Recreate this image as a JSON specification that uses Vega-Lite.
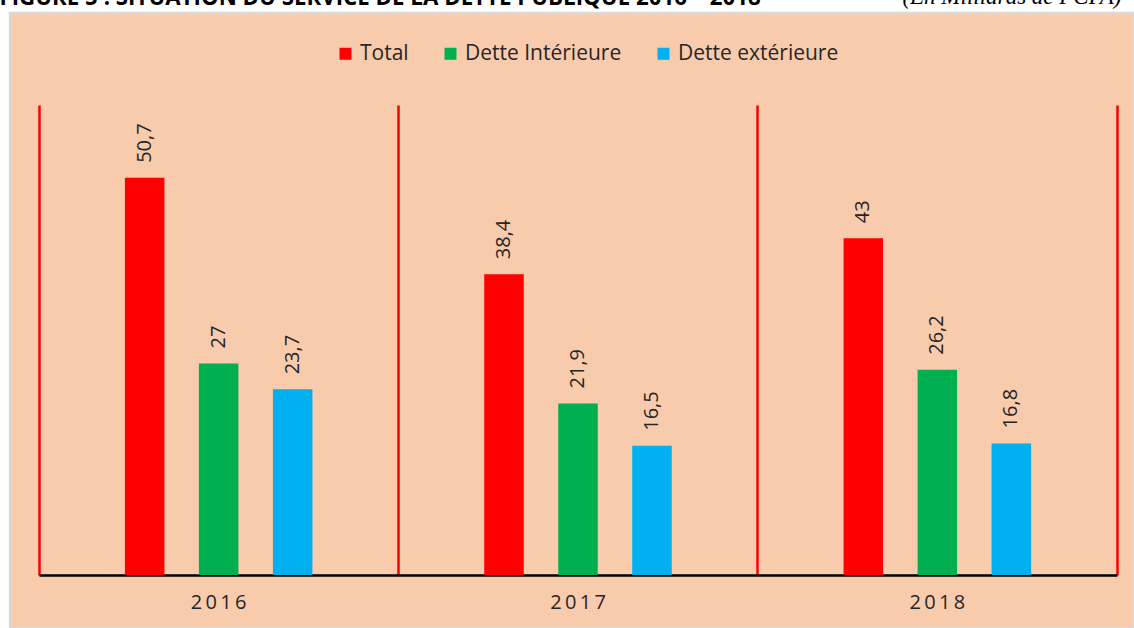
{
  "$schema": "https://vega.github.io/schema/vega-lite/v6.json",
  "width": 1124,
  "height": 615,
  "autosize": {"type": "none"},
  "padding": {"left": 10, "top": 13, "right": 0, "bottom": 0},
  "background": "#FFFFFF",
  "config": {
    "locale": {"number": {"decimal": ",", "thousands": " ", "grouping": [3], "currency": ["", ""]}},
    "view": {"fill": "#F8CBAD", "stroke": "#D9D9D9", "strokeWidth": 2.5},
    "font": "Open Sans"
  },
  "data": {
    "values": [
      {"annee": "2016", "serie": "Total", "valeur": 50.7},
      {"annee": "2016", "serie": "Dette Intérieure", "valeur": 27},
      {"annee": "2016", "serie": "Dette extérieure", "valeur": 23.7},
      {"annee": "2017", "serie": "Total", "valeur": 38.4},
      {"annee": "2017", "serie": "Dette Intérieure", "valeur": 21.9},
      {"annee": "2017", "serie": "Dette extérieure", "valeur": 16.5},
      {"annee": "2018", "serie": "Total", "valeur": 43},
      {"annee": "2018", "serie": "Dette Intérieure", "valeur": 26.2},
      {"annee": "2018", "serie": "Dette extérieure", "valeur": 16.8}
    ]
  },
  "layer": [
    {
      "mark": {"type": "bar", "width": 39.5},
      "encoding": {
        "x": {
          "field": "annee", "type": "nominal",
          "scale": {"range": [29, 1107], "paddingInner": 0, "paddingOuter": 0},
          "axis": {
            "orient": "bottom", "offset": -53, "title": null,
            "domainColor": "#000000", "domainWidth": 2.5,
            "ticks": false, "grid": false, "labelAngle": 0,
            "labelFont": "Open Sans", "labelFontSize": 20, "labelColor": "#262626",
            "labelPadding": 17,
            "labelExpr": "join(split(datum.label, ''), '\u2009')"
          }
        },
        "xOffset": {
          "field": "serie", "type": "nominal",
          "sort": ["Total", "Dette Intérieure", "Dette extérieure"],
          "scale": {"paddingInner": 0, "paddingOuter": 0.928}
        },
        "y": {
          "field": "valeur", "type": "quantitative",
          "scale": {"domain": [0, 60], "range": [562, 92], "nice": false},
          "axis": {
            "title": "FIGURE 5 : SITUATION DU SERVICE DE LA DETTE PUBLIQUE 2016 – 2018",
            "titleAngle": 0, "titleAlign": "left", "titleBaseline": "alphabetic",
            "titleX": -11, "titleY": -8.5,
            "titleFont": "Open Sans", "titleFontSize": 22.3, "titleFontWeight": "bold", "titleColor": "#000000",
            "titleLimit": 1000,
            "domain": false, "ticks": false, "labels": false, "grid": false
          }
        },
        "color": {
          "field": "serie", "type": "nominal",
          "scale": {"domain": ["Total", "Dette Intérieure", "Dette extérieure"], "range": ["#FF0000", "#00B050", "#00B0F0"]},
          "legend": {
            "orient": "none", "legendX": 325, "legendY": 30, "direction": "horizontal",
            "title": null, "symbolType": "square", "symbolSize": 144, "symbolStrokeWidth": 0,
            "labelFont": "Open Sans", "labelFontSize": 21, "labelColor": "#262626", "labelLimit": 400,
            "labelOffset": 4, "columnPadding": 31, "padding": 0
          }
        }
      }
    },
    {
      "mark": {"type": "text", "angle": 270, "align": "left", "baseline": "middle", "dx": 15, "font": "Open Sans", "fontSize": 20, "color": "#262626"},
      "encoding": {
        "x": {
          "field": "annee", "type": "nominal",
          "scale": {"range": [29, 1107], "paddingInner": 0, "paddingOuter": 0},
          "axis": {
            "orient": "top", "offset": 0,
            "title": "(En Milliards de FCFA)",
            "titleFont": "Liberation Serif", "titleFontStyle": "italic", "titleFontWeight": "normal",
            "titleFontSize": 23, "titleColor": "#000000", "titleLimit": 1000,
            "titleAnchor": "end", "titleAlign": "right", "titleBaseline": "alphabetic",
            "titleX": 1111, "titleY": -10,
            "domain": false, "ticks": false, "labels": false,
            "grid": true, "gridColor": "#FF0000", "gridWidth": 2.5,
            "bandPosition": 1, "tickExtra": true
          }
        },
        "xOffset": {
          "field": "serie", "type": "nominal",
          "sort": ["Total", "Dette Intérieure", "Dette extérieure"],
          "scale": {"paddingInner": 0, "paddingOuter": 0.928}
        },
        "y": {"field": "valeur", "type": "quantitative", "axis": null},
        "text": {"field": "valeur", "type": "quantitative", "format": "~g"}
      }
    }
  ],
  "resolve": {"axis": {"x": "independent", "y": "independent"}}
}
